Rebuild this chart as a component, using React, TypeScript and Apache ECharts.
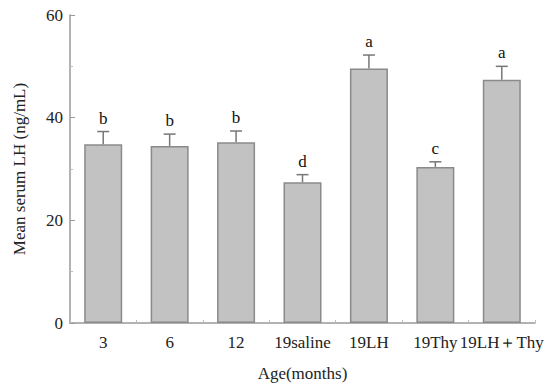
import React, { useEffect, useRef } from "react";
import * as echarts from "echarts";

const categories = ["3", "6", "12", "19saline", "19LH", "19Thy", "19LH＋Thy"];
const means = [34.8, 34.5, 35.2, 27.4, 49.6, 30.4, 47.4];
const errTops = [37.3, 36.8, 37.4, 28.9, 52.2, 31.4, 50.0];
const letters = ["b", "b", "b", "d", "a", "c", "a"];

const FONT = "Liberation Serif";

export default function App() {
  const ref = useRef<HTMLDivElement>(null);
  useEffect(() => {
    if (!ref.current) return;
    const chart = echarts.init(ref.current, null, { renderer: "svg" });
    const errData = categories.map((_, i) => [i, means[i], errTops[i], letters[i]]);
    chart.setOption({
      animation: false,
      grid: { left: 70, right: 21, top: 15, bottom: 65 },
      xAxis: {
        type: "category",
        data: categories,
        name: "Age(months)",
        nameLocation: "middle",
        nameGap: 42,
        nameTextStyle: { fontFamily: FONT, fontSize: 17, color: "#222" },
        axisLine: { lineStyle: { color: "#999", width: 1.5 } },
        axisTick: { show: true, inside: true, length: 3, lineStyle: { color: "#bbb" } },
        axisLabel: { fontFamily: FONT, fontSize: 17, color: "#222", margin: 11, interval: 0 },
      },
      yAxis: {
        type: "value",
        min: 0,
        max: 60,
        interval: 20,
        name: "Mean serum LH (ng/mL)",
        nameLocation: "middle",
        nameGap: 42,
        nameTextStyle: { fontFamily: FONT, fontSize: 17, color: "#222" },
        axisLine: { show: true, lineStyle: { color: "#999", width: 1.5 } },
        axisTick: { show: true, inside: true, length: 5, lineStyle: { color: "#999" } },
        minorTick: { show: true, splitNumber: 2, length: 3, lineStyle: { color: "#bbb" } },
        splitLine: { show: false },
        axisLabel: { fontFamily: FONT, fontSize: 17, color: "#222", margin: 7 },
      },
      series: [
        {
          type: "bar",
          data: means,
          barWidth: 38,
          itemStyle: { color: "#c2c2c2", borderColor: "#8a8a8a", borderWidth: 1.5 },
        },
        {
          type: "custom",
          data: errData,
          z: 10,
          renderItem: (params: any, api: any) => {
            const i = api.value(0);
            const top = api.coord([i, api.value(1)]);
            const et = api.coord([i, api.value(2)]);
            const letter = letters[params.dataIndex];
            const half = 6;
            return {
              type: "group",
              children: [
                {
                  type: "line",
                  shape: { x1: top[0], y1: top[1], x2: et[0], y2: et[1] },
                  style: { stroke: "#777", lineWidth: 1.5 },
                },
                {
                  type: "line",
                  shape: { x1: et[0] - half, y1: et[1], x2: et[0] + half, y2: et[1] },
                  style: { stroke: "#777", lineWidth: 1.5 },
                },
                {
                  type: "text",
                  x: et[0],
                  y: et[1] - 5,
                  style: {
                    text: letter,
                    fontFamily: FONT,
                    fontSize: 17,
                    fill: "#111",
                    align: "center",
                    verticalAlign: "bottom",
                  },
                },
              ],
            };
          },
        },
      ],
    });
    return () => chart.dispose();
  }, []);
  return (
    <div
      ref={ref}
      style={{ position: "absolute", left: 0, top: 0, width: 556, height: 388 }}
    />
  );
}
